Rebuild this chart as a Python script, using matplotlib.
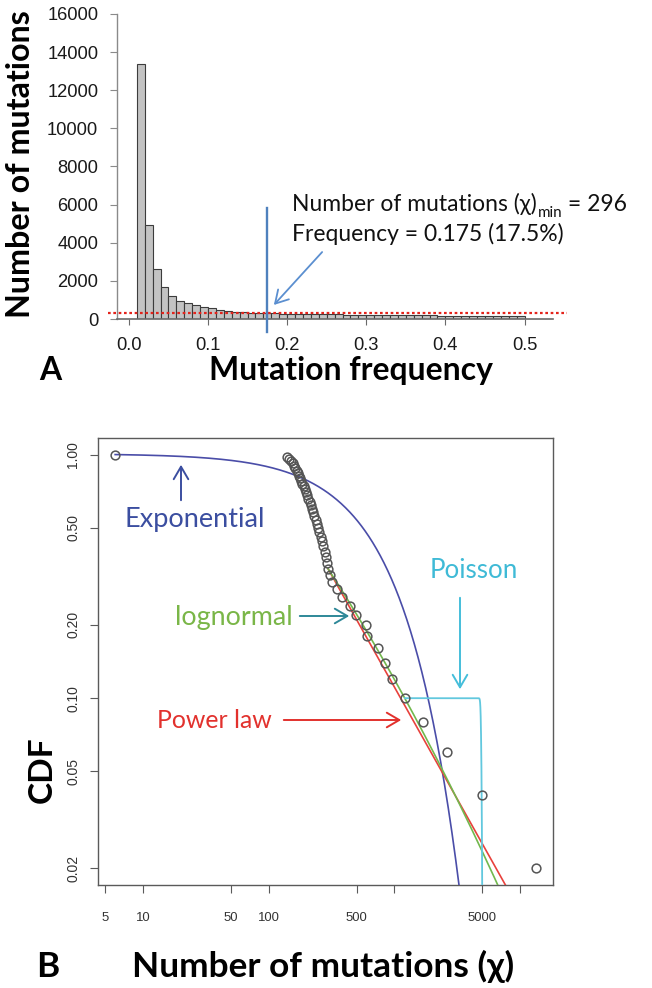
import numpy as np
import matplotlib
matplotlib.use("Agg")
import matplotlib.pyplot as plt
from math import erfc, sqrt, log

# ---------------- data ----------------
# histogram of mutation frequency (bins of 0.01 from 0.00 to 0.50)
bin_left = [round(0.01 * i, 2) for i in range(50)]
counts = [6, 13400, 4950, 2625, 1680, 1210, 960, 840, 735, 610,
          595, 490, 440, 385, 350, 320, 305, 296, 290, 285,
          280, 272, 266, 258, 252, 247, 242, 236, 231, 226,
          221, 216, 211, 206, 201, 197, 193, 189, 185, 181,
          178, 175, 171, 167, 163, 159, 155, 150, 146, 140]
xmin_count = 296          # (chi)_min
xmin_freq = 0.175         # frequency at xmin
top_yticks = [0, 2000, 4000, 6000, 8000, 10000, 12000, 14000, 16000]
top_xticks = [0.0, 0.1, 0.2, 0.3, 0.4, 0.5]

# fitted models (CDF panel)
exp_rate = 0.00125
exp_xmin = 6
pl_alpha = 1.92
ln_mu, ln_sigma = 0.0, 2.92
pois_lambda = 4920
pois_xmin = 1210

bx_ticks = [5, 10, 50, 100, 500, 1000, 5000, 10000]
bx_labels = ["5", "10", "50", "100", "500", "", "5000", ""]
by_ticks = [0.02, 0.05, 0.10, 0.20, 0.50, 1.00]
by_labels = ["0.02", "0.05", "0.10", "0.20", "0.50", "1.00"]

# ---------------- figure ----------------
W, H = 652, 988
fig = plt.figure(figsize=(W / 100, H / 100), dpi=100)
fig.patch.set_facecolor("white")
fig.canvas.draw()
rend = fig.canvas.get_renderer()

def fx(px):
    return px / W

def fy(py):
    return 1 - py / H

SANS = ["Lato", "DejaVu Sans"]
TICKF = ["Liberation Sans", "DejaVu Sans"]

def fit_size(text, target_px, family, weight="normal"):
    t = fig.text(0, 0, text, fontsize=12, family=family, weight=weight)
    for _ in range(4):
        w = t.get_window_extent(rend).width
        t.set_fontsize(t.get_fontsize() * target_px / w)
    s = t.get_fontsize()
    t.remove()
    return s

tick_top = fit_size("16000", 51, TICKF)
tick_bx = fit_size("5000", 29, TICKF)
tick_by = fit_size("0.50", 27, TICKF)
ann_size = fit_size("Frequency = 0.175 (17.5%)", 272, SANS)
ylab_top = fit_size("Number of mutations", 308, SANS, "bold")
xlab_top = fit_size("Mutation frequency", 284, SANS, "bold")
xlab_bot = fit_size("Number of mutations (\u03c7)", 381, SANS, "bold")
exp_size = fit_size("Exponential", 140, SANS)
pois_size = fit_size("Poisson", 88, SANS)
logn_size = fit_size("lognormal", 118, SANS)
pl_size = fit_size("Power law", 115, SANS)

# ---------------- panel A ----------------
ax1 = fig.add_axes([fx(117), fy(319), fx(553) - fx(117), fy(14) - fy(319)])
ax1.bar(bin_left, counts, width=0.01, align="edge", color="#C3C3C3",
        edgecolor="#3C3C3C", linewidth=0.8, zorder=2)
ax1.set_xlim(-0.015, 0.536)
ax1.set_ylim(0, 16000)
for s in ["top", "right"]:
    ax1.spines[s].set_visible(False)
ax1.spines["left"].set_color("#8A8A8A")
ax1.spines["bottom"].set_color("#6A6A6A")
ax1.spines["left"].set_linewidth(1.0)
ax1.spines["bottom"].set_linewidth(1.2)
ax1.set_yticks(top_yticks)
ax1.set_yticklabels([str(v) for v in top_yticks])
ax1.set_xticks(top_xticks)
ax1.set_xticklabels([f"{v:.1f}" for v in top_xticks])
ax1.tick_params(axis="y", direction="out", length=5, color="#8A8A8A",
                labelsize=tick_top, pad=8.5, labelcolor="#1A1A1A")
ax1.tick_params(axis="x", direction="out", length=4, color="#6A6A6A",
                labelsize=tick_top, pad=9, labelcolor="#1A1A1A")
for lab in ax1.get_xticklabels() + ax1.get_yticklabels():
    lab.set_family(TICKF)

# reference lines
ax1.plot([-0.0265, 0.554], [xmin_count, xmin_count], ls=(0, (1.2, 1.2)),
         color="#E3231B", lw=1.6, clip_on=False, zorder=4)
ax1.plot([xmin_freq, xmin_freq], [-700, 5800], color="#4F81BD", lw=1.7,
         clip_on=False, zorder=5)

# annotation text for panel A
t1 = fig.text(fx(292), fy(211), "Number of mutations (\u03c7)", fontsize=ann_size,
              family=SANS, va="baseline", ha="left", color="#111111")
bb = t1.get_window_extent(rend)
tmin = fig.text(bb.x1 / W + 0.001, fy(211) - 6 / H, "min",
                fontsize=ann_size * 0.66, family=SANS, va="baseline",
                ha="left", color="#111111")
bb2 = tmin.get_window_extent(rend)
fig.text(bb2.x1 / W, fy(211), " = " + str(xmin_count), fontsize=ann_size,
         family=SANS, va="baseline", ha="left", color="#111111")
fig.text(fx(292), fy(241), f"Frequency = {xmin_freq} ({xmin_freq*100:.1f}%)",
         fontsize=ann_size, family=SANS, va="baseline", ha="left",
         color="#111111")
fig.add_artist(matplotlib.patches.FancyArrowPatch(
    (fx(324), fy(250)), (fx(272), fy(307)), transform=fig.transFigure,
    arrowstyle="->,head_length=6,head_width=3.5", color="#5B8FD0", lw=1.3,
    mutation_scale=1.5))

fig.text(fx(21), fy(164), "Number of mutations", rotation=90, fontsize=ylab_top,
         weight="bold", family=SANS, ha="center", va="center")
fig.text(fx(351), fy(380), "Mutation frequency", fontsize=xlab_top,
         weight="bold", family=SANS, ha="center", va="baseline")
fig.text(fx(39), fy(380), "A", fontsize=xlab_top, weight="bold", family=SANS,
         ha="left", va="baseline")

# ---------------- panel B ----------------
vals = np.array(counts, dtype=float)
uniq = np.unique(vals)
ccdf = np.array([(vals >= u).sum() for u in uniq]) / len(vals)
p_xmin = (vals >= xmin_count).sum() / len(vals)
p_pois = (vals >= pois_xmin).sum() / len(vals)

ax2 = fig.add_axes([fx(98.3), fy(885), fx(553) - fx(98.3), fy(438) - fy(885)])
ax2.set_xscale("log")
ax2.set_yscale("log")
ax2.set_xlim(10 ** 0.644, 10 ** 4.261)
ax2.set_ylim(10 ** -1.767, 10 ** 0.068)

# exponential
xe = np.geomspace(exp_xmin, 6000, 600)
ax2.plot(xe, np.exp(-exp_rate * (xe - exp_xmin)), color="#4A4DA8", lw=1.2, zorder=3)
# power law
xp = np.geomspace(xmin_count, 20000, 200)
ax2.plot(xp, p_xmin * (xp / xmin_count) ** (-(pl_alpha - 1)), color="#E8413C",
         lw=1.2, zorder=3)
# lognormal
def ln_sf(x):
    return 0.5 * erfc((log(x) - ln_mu) / (ln_sigma * sqrt(2)))
xl = np.geomspace(xmin_count, 20000, 200)
ax2.plot(xl, [p_xmin * ln_sf(v) / ln_sf(xmin_count) for v in xl],
         color="#72B84E", lw=1.2, zorder=3)
# poisson (normal approximation of the tail)
def pois_sf(x):
    return 0.5 * erfc((x - pois_lambda) / (sqrt(pois_lambda) * sqrt(2)))
xq = np.concatenate([np.geomspace(pois_xmin, 4500, 50),
                     np.linspace(4500, 5400, 400)])
ax2.plot(xq, [p_pois * pois_sf(v) / pois_sf(pois_xmin) for v in xq],
         color="#62C8DE", lw=1.3, zorder=3)

ax2.plot(uniq, ccdf, ls="none", marker="o", mfc="none", mec="#555555",
         ms=6.3, mew=1.1, zorder=5)

for s in ax2.spines.values():
    s.set_color("#5A5A5A")
    s.set_linewidth(1.0)
ax2.set_xticks(bx_ticks)
ax2.set_xticklabels(bx_labels)
ax2.set_yticks(by_ticks)
ax2.set_yticklabels(by_labels)
ax2.minorticks_off()
ax2.tick_params(axis="x", direction="out", length=6, color="#5A5A5A",
                labelsize=tick_bx, pad=13.5, labelcolor="#333333")
ax2.tick_params(axis="y", direction="out", length=6, color="#5A5A5A",
                labelsize=tick_by, pad=7, labelcolor="#333333")
for lab in ax2.get_xticklabels():
    lab.set_family(TICKF)
for lab in ax2.get_yticklabels():
    lab.set_family(TICKF)
    lab.set_rotation(90)
    lab.set_va("center")

def farrow(p0, p1, color):
    fig.add_artist(matplotlib.patches.FancyArrowPatch(
        (fx(p0[0]), fy(p0[1])), (fx(p1[0]), fy(p1[1])),
        transform=fig.transFigure, arrowstyle="->,head_length=6,head_width=3.5",
        color=color, lw=1.4, mutation_scale=1.5))

fig.text(fx(195), fy(520), "Exponential", fontsize=exp_size, family=SANS,
         color="#3B4EA0", ha="center", va="center")
farrow((181, 503), (181, 462), "#3B4EA0")
fig.text(fx(234), fy(618), "lognormal", fontsize=logn_size, family=SANS,
         color="#7AB648", ha="center", va="center")
farrow((297, 616), (352, 616), "#2E8898")
fig.text(fx(474), fy(570), "Poisson", fontsize=pois_size, family=SANS,
         color="#3FBAD6", ha="center", va="center")
farrow((460, 595), (460, 692), "#45BEDA")
fig.text(fx(214), fy(720), "Power law", fontsize=pl_size, family=SANS,
         color="#E2312D", ha="center", va="center")
farrow((281, 720), (404, 720), "#E2312D")

fig.text(fx(42), fy(770), "CDF", rotation=90, fontsize=xlab_bot * 0.95,
         weight="bold", family=SANS, ha="center", va="center")
fig.text(fx(323), fy(977), "Number of mutations (\u03c7)", fontsize=xlab_bot,
         weight="bold", family=SANS, ha="center", va="baseline")
fig.text(fx(36), fy(977), "B", fontsize=xlab_bot, weight="bold", family=SANS,
         ha="left", va="baseline")

fig.savefig("out.png", dpi=100, facecolor="white")
